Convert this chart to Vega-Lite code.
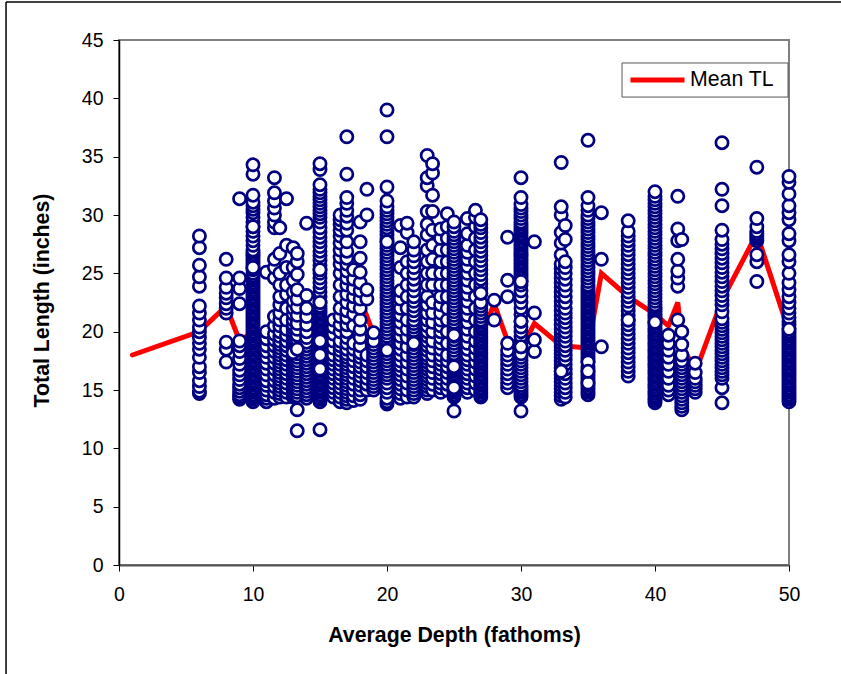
{"$schema":"https://vega.github.io/schema/vega-lite/v6.json","autosize":"none","padding":{"left":119,"top":40,"right":52,"bottom":109},"width":670,"height":525,"background":"white","config":{"view":{"stroke":"#808080","strokeWidth":2},"font":"Liberation Sans"},
"datasets":{"mean":[{"d":1,"t":18},{"d":6,"t":20},{"d":8,"t":22.2},{"d":9,"t":19.2},{"d":10,"t":20},{"d":12,"t":20},{"d":14,"t":20.5},{"d":16,"t":20.5},{"d":18,"t":22.8},{"d":19,"t":19.8},{"d":22,"t":20.5},{"d":25,"t":21.7},{"d":27,"t":19.5},{"d":28,"t":22.4},{"d":29,"t":19.2},{"d":30,"t":18.5},{"d":31,"t":20.7},{"d":33,"t":18.8},{"d":35,"t":18.6},{"d":36,"t":25},{"d":38,"t":23},{"d":40,"t":21.5},{"d":41,"t":20.5},{"d":41.7,"t":22.5},{"d":42,"t":19},{"d":43,"t":16.5},{"d":45,"t":22.7},{"d":47.6,"t":28.4},{"d":50,"t":20}],
"frame":[{"a":-8.43,"b":-9.4,"a2":-8.43,"b2":48.26},{"a":-8.43,"b":48.26,"a2":53.9,"b2":48.26}],
"legendbox":[{"a":37.54,"a2":49.93,"b":43.03,"b2":40.11}],
"fish":[
{"d":6,"t":14.7},{"d":6,"t":14.9},{"d":6,"t":15.3},{"d":6,"t":15.8},{"d":6,"t":16.5},{"d":6,"t":17},{"d":6,"t":17.8},{"d":6,"t":18.5},{"d":6,"t":19},{"d":6,"t":19.5},{"d":6,"t":20},{"d":6,"t":20.4},{"d":6,"t":21},{"d":6,"t":21.6},{"d":6,"t":22.2},{"d":6,"t":23.9},{"d":6,"t":24.7},{"d":6,"t":25.7},{"d":6,"t":27.2},{"d":6,"t":28.2},
{"d":8,"t":17.4},{"d":8,"t":18.5},{"d":8,"t":19.1},{"d":8,"t":21.6},{"d":8,"t":22},{"d":8,"t":22.4},{"d":8,"t":22.9},{"d":8,"t":23.3},{"d":8,"t":23.8},{"d":8,"t":24.6},{"d":8,"t":26.2},
{"d":9,"t":14.2},{"d":9,"t":14.4},{"d":9,"t":14.6},{"d":9,"t":14.9},{"d":9,"t":15.2},{"d":9,"t":15.5},{"d":9,"t":15.9},{"d":9,"t":16.3},{"d":9,"t":16.7},{"d":9,"t":17.2},{"d":9,"t":17.7},{"d":9,"t":18.3},{"d":9,"t":18.8},{"d":9,"t":19.2},{"d":9,"t":22.4},{"d":9,"t":23.7},{"d":9,"t":24.6},{"d":9,"t":31.4},
{"d":10,"t":14},{"d":10,"t":14.2},{"d":10,"t":14.4},{"d":10,"t":14.6},{"d":10,"t":14.8},{"d":10,"t":15},{"d":10,"t":15.2},{"d":10,"t":15.4},{"d":10,"t":15.6},{"d":10,"t":15.8},{"d":10,"t":16},{"d":10,"t":16.2},{"d":10,"t":16.4},{"d":10,"t":16.6},{"d":10,"t":16.8},{"d":10,"t":17},{"d":10,"t":17.2},{"d":10,"t":17.4},{"d":10,"t":17.6},{"d":10,"t":17.8},{"d":10,"t":18},{"d":10,"t":18.2},{"d":10,"t":18.4},{"d":10,"t":18.6},{"d":10,"t":18.8},{"d":10,"t":19},{"d":10,"t":19.2},{"d":10,"t":19.4},{"d":10,"t":19.6},{"d":10,"t":19.8},{"d":10,"t":20},{"d":10,"t":20.2},{"d":10,"t":20.4},{"d":10,"t":20.6},{"d":10,"t":20.8},{"d":10,"t":21},{"d":10,"t":21.2},{"d":10,"t":21.4},{"d":10,"t":21.6},{"d":10,"t":21.8},{"d":10,"t":22},{"d":10,"t":22.2},{"d":10,"t":22.4},{"d":10,"t":22.6},{"d":10,"t":22.8},{"d":10,"t":23},{"d":10,"t":23.2},{"d":10,"t":23.4},{"d":10,"t":23.6},{"d":10,"t":23.8},{"d":10,"t":24},{"d":10,"t":24.2},{"d":10,"t":24.4},{"d":10,"t":24.6},{"d":10,"t":24.8},{"d":10,"t":25},{"d":10,"t":25.3},{"d":10,"t":25.5},{"d":10,"t":25.8},{"d":10,"t":26},{"d":10,"t":26.2},{"d":10,"t":26.4},{"d":10,"t":26.6},{"d":10,"t":26.8},{"d":10,"t":27},{"d":10,"t":27.4},{"d":10,"t":27.8},{"d":10,"t":28.2},{"d":10,"t":28.6},{"d":10,"t":29},{"d":10,"t":29.4},{"d":10,"t":29.8},{"d":10,"t":30.2},{"d":10,"t":30.5},{"d":10,"t":30.8},{"d":10,"t":31.1},{"d":10,"t":31.7},{"d":10,"t":33.5},{"d":10,"t":34.3},
{"d":11,"t":14},{"d":11,"t":14.3},{"d":11,"t":14.6},{"d":11,"t":15},{"d":11,"t":15.4},{"d":11,"t":15.8},{"d":11,"t":16.3},{"d":11,"t":16.8},{"d":11,"t":17.3},{"d":11,"t":17.8},{"d":11,"t":18.3},{"d":11,"t":18.8},{"d":11,"t":19.4},{"d":11,"t":20},{"d":11,"t":25.1},
{"d":11.6,"t":14.3},{"d":11.6,"t":14.8},{"d":11.6,"t":15.3},{"d":11.6,"t":15.8},{"d":11.6,"t":16.3},{"d":11.6,"t":16.8},{"d":11.6,"t":17.3},{"d":11.6,"t":17.8},{"d":11.6,"t":18.3},{"d":11.6,"t":18.8},{"d":11.6,"t":19.3},{"d":11.6,"t":19.8},{"d":11.6,"t":20.5},{"d":11.6,"t":21.3},{"d":11.6,"t":24.6},{"d":11.6,"t":25.5},{"d":11.6,"t":26.2},{"d":11.6,"t":28.9},{"d":11.6,"t":29.4},{"d":11.6,"t":30},{"d":11.6,"t":30.6},{"d":11.6,"t":31.2},{"d":11.6,"t":31.9},{"d":11.6,"t":33.2},
{"d":12,"t":14.4},{"d":12,"t":14.7},{"d":12,"t":15},{"d":12,"t":15.3},{"d":12,"t":15.6},{"d":12,"t":15.9},{"d":12,"t":16.2},{"d":12,"t":16.5},{"d":12,"t":16.8},{"d":12,"t":17.1},{"d":12,"t":17.4},{"d":12,"t":17.7},{"d":12,"t":18},{"d":12,"t":18.3},{"d":12,"t":18.6},{"d":12,"t":18.9},{"d":12,"t":19.2},{"d":12,"t":19.6},{"d":12,"t":20},{"d":12,"t":20.5},{"d":12,"t":21},{"d":12,"t":21.6},{"d":12,"t":22.3},{"d":12,"t":23},{"d":12,"t":24},{"d":12,"t":25},{"d":12,"t":26.7},{"d":12,"t":28.9},
{"d":12.5,"t":14.4},{"d":12.5,"t":14.8},{"d":12.5,"t":15.2},{"d":12.5,"t":15.6},{"d":12.5,"t":16},{"d":12.5,"t":16.4},{"d":12.5,"t":16.8},{"d":12.5,"t":17.2},{"d":12.5,"t":17.6},{"d":12.5,"t":18},{"d":12.5,"t":18.4},{"d":12.5,"t":18.8},{"d":12.5,"t":19.2},{"d":12.5,"t":19.7},{"d":12.5,"t":20.2},{"d":12.5,"t":21},{"d":12.5,"t":22},{"d":12.5,"t":23.2},{"d":12.5,"t":24},{"d":12.5,"t":25.5},{"d":12.5,"t":27.4},{"d":12.5,"t":31.4},
{"d":13,"t":14.4},{"d":13,"t":14.6},{"d":13,"t":14.8},{"d":13,"t":15},{"d":13,"t":15.2},{"d":13,"t":15.4},{"d":13,"t":15.6},{"d":13,"t":15.8},{"d":13,"t":16},{"d":13,"t":16.2},{"d":13,"t":16.4},{"d":13,"t":16.6},{"d":13,"t":16.8},{"d":13,"t":17},{"d":13,"t":17.2},{"d":13,"t":17.4},{"d":13,"t":17.6},{"d":13,"t":17.8},{"d":13,"t":18},{"d":13,"t":18.2},{"d":13,"t":18.4},{"d":13,"t":18.6},{"d":13,"t":18.8},{"d":13,"t":19},{"d":13,"t":19.2},{"d":13,"t":19.4},{"d":13,"t":19.6},{"d":13,"t":19.8},{"d":13,"t":20},{"d":13,"t":20.3},{"d":13,"t":20.6},{"d":13,"t":21},{"d":13,"t":21.5},{"d":13,"t":22},{"d":13,"t":22.6},{"d":13,"t":23.4},{"d":13,"t":24.4},{"d":13,"t":25.5},{"d":13,"t":27.2},
{"d":13.3,"t":11.5},{"d":13.3,"t":13.3},{"d":13.3,"t":14.5},{"d":13.3,"t":14.8},{"d":13.3,"t":15.1},{"d":13.3,"t":15.4},{"d":13.3,"t":15.7},{"d":13.3,"t":16},{"d":13.3,"t":16.3},{"d":13.3,"t":16.6},{"d":13.3,"t":16.9},{"d":13.3,"t":17.2},{"d":13.3,"t":17.5},{"d":13.3,"t":17.8},{"d":13.3,"t":18.1},{"d":13.3,"t":18.5},{"d":13.3,"t":18.9},{"d":13.3,"t":19.3},{"d":13.3,"t":19.7},{"d":13.3,"t":20.2},{"d":13.3,"t":20.7},{"d":13.3,"t":21.4},{"d":13.3,"t":22.1},{"d":13.3,"t":22.8},{"d":13.3,"t":23.6},{"d":13.3,"t":24.9},{"d":13.3,"t":26},{"d":13.3,"t":26.7},
{"d":14,"t":14.3},{"d":14,"t":14.6},{"d":14,"t":14.9},{"d":14,"t":15.2},{"d":14,"t":15.5},{"d":14,"t":15.8},{"d":14,"t":16.1},{"d":14,"t":16.4},{"d":14,"t":16.7},{"d":14,"t":17},{"d":14,"t":17.3},{"d":14,"t":17.6},{"d":14,"t":17.9},{"d":14,"t":18.2},{"d":14,"t":18.5},{"d":14,"t":18.8},{"d":14,"t":19.1},{"d":14,"t":19.5},{"d":14,"t":20},{"d":14,"t":20.6},{"d":14,"t":21.3},{"d":14,"t":22},{"d":14,"t":23.1},{"d":14,"t":29.3},
{"d":15,"t":11.6},{"d":15,"t":14},{"d":15,"t":14.2},{"d":15,"t":14.4},{"d":15,"t":14.6},{"d":15,"t":14.8},{"d":15,"t":15},{"d":15,"t":15.2},{"d":15,"t":15.4},{"d":15,"t":15.6},{"d":15,"t":15.8},{"d":15,"t":16},{"d":15,"t":16.2},{"d":15,"t":16.4},{"d":15,"t":16.6},{"d":15,"t":16.8},{"d":15,"t":17},{"d":15,"t":17.2},{"d":15,"t":17.4},{"d":15,"t":17.6},{"d":15,"t":17.8},{"d":15,"t":18},{"d":15,"t":18.2},{"d":15,"t":18.4},{"d":15,"t":18.6},{"d":15,"t":18.8},{"d":15,"t":19},{"d":15,"t":19.2},{"d":15,"t":19.4},{"d":15,"t":19.6},{"d":15,"t":19.8},{"d":15,"t":20},{"d":15,"t":20.2},{"d":15,"t":20.4},{"d":15,"t":20.6},{"d":15,"t":20.8},{"d":15,"t":21},{"d":15,"t":21.2},{"d":15,"t":21.4},{"d":15,"t":21.6},{"d":15,"t":21.8},{"d":15,"t":22},{"d":15,"t":22.2},{"d":15,"t":22.5},{"d":15,"t":23},{"d":15,"t":23.4},{"d":15,"t":23.8},{"d":15,"t":24.2},{"d":15,"t":24.6},{"d":15,"t":25},{"d":15,"t":25.3},{"d":15,"t":25.7},{"d":15,"t":26.1},{"d":15,"t":26.5},{"d":15,"t":26.9},{"d":15,"t":27.3},{"d":15,"t":27.7},{"d":15,"t":28.1},{"d":15,"t":28.5},{"d":15,"t":28.9},{"d":15,"t":29.4},{"d":15,"t":29.8},{"d":15,"t":30.1},{"d":15,"t":30.4},{"d":15,"t":30.7},{"d":15,"t":31},{"d":15,"t":31.3},{"d":15,"t":31.6},{"d":15,"t":31.9},{"d":15,"t":32.2},{"d":15,"t":32.6},{"d":15,"t":33.9},{"d":15,"t":34.4},
{"d":16,"t":14.4},{"d":16,"t":14.8},{"d":16,"t":15.2},{"d":16,"t":15.6},{"d":16,"t":16},{"d":16,"t":16.4},{"d":16,"t":16.8},{"d":16,"t":17.2},{"d":16,"t":17.6},{"d":16,"t":18},{"d":16,"t":18.6},{"d":16,"t":19.2},{"d":16,"t":19.8},{"d":16,"t":20.4},{"d":16,"t":21},
{"d":16.5,"t":14},{"d":16.5,"t":14.4},{"d":16.5,"t":14.8},{"d":16.5,"t":15.2},{"d":16.5,"t":15.6},{"d":16.5,"t":16},{"d":16.5,"t":16.4},{"d":16.5,"t":16.8},{"d":16.5,"t":17.2},{"d":16.5,"t":17.6},{"d":16.5,"t":18},{"d":16.5,"t":18.4},{"d":16.5,"t":18.8},{"d":16.5,"t":19.2},{"d":16.5,"t":20},{"d":16.5,"t":20.6},{"d":16.5,"t":21.3},{"d":16.5,"t":22},{"d":16.5,"t":23},{"d":16.5,"t":24},{"d":16.5,"t":25},{"d":16.5,"t":25.8},{"d":16.5,"t":26.4},{"d":16.5,"t":27},{"d":16.5,"t":27.6},{"d":16.5,"t":28.2},{"d":16.5,"t":28.7},{"d":16.5,"t":29.2},{"d":16.5,"t":29.6},{"d":16.5,"t":30},
{"d":17,"t":13.9},{"d":17,"t":14.2},{"d":17,"t":14.5},{"d":17,"t":14.8},{"d":17,"t":15.1},{"d":17,"t":15.4},{"d":17,"t":15.7},{"d":17,"t":16},{"d":17,"t":16.3},{"d":17,"t":16.6},{"d":17,"t":16.9},{"d":17,"t":17.2},{"d":17,"t":17.5},{"d":17,"t":17.8},{"d":17,"t":18.1},{"d":17,"t":18.5},{"d":17,"t":19},{"d":17,"t":19.5},{"d":17,"t":20},{"d":17,"t":20.6},{"d":17,"t":21.2},{"d":17,"t":21.8},{"d":17,"t":22.5},{"d":17,"t":23.2},{"d":17,"t":24},{"d":17,"t":24.6},{"d":17,"t":25.2},{"d":17,"t":25.8},{"d":17,"t":26.3},{"d":17,"t":26.9},{"d":17,"t":27.7},{"d":17,"t":28.7},{"d":17,"t":29.3},{"d":17,"t":29.9},{"d":17,"t":30.4},{"d":17,"t":31},{"d":17,"t":31.5},{"d":17,"t":33.5},{"d":17,"t":36.7},
{"d":17.5,"t":14.1},{"d":17.5,"t":14.5},{"d":17.5,"t":15},{"d":17.5,"t":15.5},{"d":17.5,"t":16},{"d":17.5,"t":16.5},{"d":17.5,"t":17},{"d":17.5,"t":17.5},{"d":17.5,"t":18},{"d":17.5,"t":18.5},{"d":17.5,"t":19},{"d":17.5,"t":20.5},{"d":17.5,"t":21.5},{"d":17.5,"t":22.2},{"d":17.5,"t":23},{"d":17.5,"t":23.7},{"d":17.5,"t":24.5},{"d":17.5,"t":25.3},
{"d":18,"t":14.2},{"d":18,"t":14.6},{"d":18,"t":15},{"d":18,"t":15.4},{"d":18,"t":15.8},{"d":18,"t":16.2},{"d":18,"t":16.6},{"d":18,"t":17},{"d":18,"t":17.4},{"d":18,"t":17.8},{"d":18,"t":18.2},{"d":18,"t":18.8},{"d":18,"t":19.5},{"d":18,"t":20.2},{"d":18,"t":21},{"d":18,"t":22},{"d":18,"t":22.8},{"d":18,"t":23.5},{"d":18,"t":24.2},{"d":18,"t":25.1},{"d":18,"t":26.3},{"d":18,"t":27.7},{"d":18,"t":29.4},
{"d":18.5,"t":15},{"d":18.5,"t":15.5},{"d":18.5,"t":16},{"d":18.5,"t":16.5},{"d":18.5,"t":17},{"d":18.5,"t":17.5},{"d":18.5,"t":18},{"d":18.5,"t":22.8},{"d":18.5,"t":23.6},{"d":18.5,"t":30},{"d":18.5,"t":32.2},
{"d":19,"t":15},{"d":19,"t":15.3},{"d":19,"t":15.6},{"d":19,"t":15.9},{"d":19,"t":16.2},{"d":19,"t":16.5},{"d":19,"t":16.8},{"d":19,"t":17.1},{"d":19,"t":17.4},{"d":19,"t":17.7},{"d":19,"t":18},{"d":19,"t":18.3},{"d":19,"t":18.6},{"d":19,"t":18.9},{"d":19,"t":19.2},{"d":19,"t":19.9},
{"d":20,"t":13.8},{"d":20,"t":14},{"d":20,"t":14.3},{"d":20,"t":14.8},{"d":20,"t":15.2},{"d":20,"t":15.6},{"d":20,"t":16},{"d":20,"t":16.3},{"d":20,"t":16.6},{"d":20,"t":16.9},{"d":20,"t":17.2},{"d":20,"t":17.5},{"d":20,"t":17.8},{"d":20,"t":18.1},{"d":20,"t":18.4},{"d":20,"t":18.7},{"d":20,"t":19},{"d":20,"t":19.3},{"d":20,"t":19.6},{"d":20,"t":19.9},{"d":20,"t":20.2},{"d":20,"t":20.5},{"d":20,"t":20.8},{"d":20,"t":21.1},{"d":20,"t":21.4},{"d":20,"t":21.7},{"d":20,"t":22},{"d":20,"t":22.3},{"d":20,"t":22.6},{"d":20,"t":22.9},{"d":20,"t":23.2},{"d":20,"t":23.5},{"d":20,"t":23.8},{"d":20,"t":24.1},{"d":20,"t":24.4},{"d":20,"t":24.7},{"d":20,"t":25},{"d":20,"t":25.3},{"d":20,"t":25.6},{"d":20,"t":25.9},{"d":20,"t":26.2},{"d":20,"t":26.5},{"d":20,"t":26.8},{"d":20,"t":27.1},{"d":20,"t":27.4},{"d":20,"t":27.7},{"d":20,"t":28},{"d":20,"t":28.3},{"d":20,"t":28.6},{"d":20,"t":28.9},{"d":20,"t":29.2},{"d":20,"t":29.5},{"d":20,"t":29.8},{"d":20,"t":30.1},{"d":20,"t":30.4},{"d":20,"t":30.7},{"d":20,"t":31.2},{"d":20,"t":32.4},{"d":20,"t":36.7},{"d":20,"t":39},
{"d":21,"t":14.3},{"d":21,"t":14.7},{"d":21,"t":15.1},{"d":21,"t":15.5},{"d":21,"t":15.9},{"d":21,"t":16.3},{"d":21,"t":16.7},{"d":21,"t":17.1},{"d":21,"t":17.5},{"d":21,"t":18},{"d":21,"t":18.5},{"d":21,"t":19},{"d":21,"t":19.6},{"d":21,"t":20.2},{"d":21,"t":20.8},{"d":21,"t":21.4},{"d":21,"t":22},{"d":21,"t":22.8},{"d":21,"t":23.5},{"d":21,"t":25.5},{"d":21,"t":27.2},{"d":21,"t":29.1},
{"d":21.5,"t":14.4},{"d":21.5,"t":15},{"d":21.5,"t":15.6},{"d":21.5,"t":16.2},{"d":21.5,"t":16.8},{"d":21.5,"t":17.4},{"d":21.5,"t":18},{"d":21.5,"t":18.7},{"d":21.5,"t":19.5},{"d":21.5,"t":20.2},{"d":21.5,"t":21},{"d":21.5,"t":22},{"d":21.5,"t":23},{"d":21.5,"t":24},{"d":21.5,"t":25},{"d":21.5,"t":26},{"d":21.5,"t":28.5},{"d":21.5,"t":29.3},
{"d":22,"t":14.4},{"d":22,"t":14.7},{"d":22,"t":15},{"d":22,"t":15.3},{"d":22,"t":15.6},{"d":22,"t":15.9},{"d":22,"t":16.2},{"d":22,"t":16.5},{"d":22,"t":16.8},{"d":22,"t":17.1},{"d":22,"t":17.4},{"d":22,"t":17.7},{"d":22,"t":18},{"d":22,"t":18.3},{"d":22,"t":18.6},{"d":22,"t":18.9},{"d":22,"t":19.2},{"d":22,"t":19.5},{"d":22,"t":19.8},{"d":22,"t":20.1},{"d":22,"t":20.4},{"d":22,"t":20.7},{"d":22,"t":21},{"d":22,"t":21.4},{"d":22,"t":21.8},{"d":22,"t":22.2},{"d":22,"t":22.6},{"d":22,"t":23},{"d":22,"t":23.5},{"d":22,"t":24},{"d":22,"t":24.5},{"d":22,"t":25},{"d":22,"t":25.5},{"d":22,"t":26},{"d":22,"t":26.5},{"d":22,"t":27},{"d":22,"t":27.7},
{"d":23,"t":14.7},{"d":23,"t":15},{"d":23,"t":15.3},{"d":23,"t":15.6},{"d":23,"t":15.9},{"d":23,"t":16.2},{"d":23,"t":16.5},{"d":23,"t":16.8},{"d":23,"t":17.1},{"d":23,"t":17.4},{"d":23,"t":17.7},{"d":23,"t":18},{"d":23,"t":18.4},{"d":23,"t":18.8},{"d":23,"t":19.2},{"d":23,"t":19.6},{"d":23,"t":20},{"d":23,"t":20.5},{"d":23,"t":21},{"d":23,"t":21.6},{"d":23,"t":22.3},{"d":23,"t":23},{"d":23,"t":24},{"d":23,"t":25},{"d":23,"t":26},{"d":23,"t":27},{"d":23,"t":28.3},{"d":23,"t":29.2},{"d":23,"t":30.3},{"d":23,"t":32.5},{"d":23,"t":33.2},{"d":23,"t":35.1},
{"d":23.4,"t":15},{"d":23.4,"t":15.5},{"d":23.4,"t":16},{"d":23.4,"t":16.5},{"d":23.4,"t":17},{"d":23.4,"t":17.5},{"d":23.4,"t":18},{"d":23.4,"t":18.6},{"d":23.4,"t":19.2},{"d":23.4,"t":20},{"d":23.4,"t":20.8},{"d":23.4,"t":21.6},{"d":23.4,"t":22.5},{"d":23.4,"t":24},{"d":23.4,"t":25},{"d":23.4,"t":26.2},{"d":23.4,"t":27.4},{"d":23.4,"t":28.7},{"d":23.4,"t":30.3},{"d":23.4,"t":31.7},{"d":23.4,"t":33.6},{"d":23.4,"t":34.4},
{"d":24,"t":14.8},{"d":24,"t":15.2},{"d":24,"t":15.6},{"d":24,"t":16},{"d":24,"t":16.4},{"d":24,"t":16.8},{"d":24,"t":17.2},{"d":24,"t":17.6},{"d":24,"t":18},{"d":24,"t":18.5},{"d":24,"t":19},{"d":24,"t":19.5},{"d":24,"t":20},{"d":24,"t":20.5},{"d":24,"t":21},{"d":24,"t":21.6},{"d":24,"t":22.3},{"d":24,"t":23},{"d":24,"t":24},{"d":24,"t":25},{"d":24,"t":26},{"d":24,"t":27},{"d":24,"t":28},{"d":24,"t":28.8},
{"d":24.5,"t":15},{"d":24.5,"t":15.5},{"d":24.5,"t":16},{"d":24.5,"t":16.5},{"d":24.5,"t":17},{"d":24.5,"t":17.5},{"d":24.5,"t":18},{"d":24.5,"t":19},{"d":24.5,"t":20},{"d":24.5,"t":21},{"d":24.5,"t":22},{"d":24.5,"t":23},{"d":24.5,"t":24},{"d":24.5,"t":25},{"d":24.5,"t":26},{"d":24.5,"t":27},{"d":24.5,"t":28},{"d":24.5,"t":29},{"d":24.5,"t":30.1},
{"d":25,"t":13.2},{"d":25,"t":14.4},{"d":25,"t":14.6},{"d":25,"t":14.8},{"d":25,"t":15},{"d":25,"t":15.2},{"d":25,"t":15.4},{"d":25,"t":15.6},{"d":25,"t":15.8},{"d":25,"t":16},{"d":25,"t":16.2},{"d":25,"t":16.4},{"d":25,"t":16.6},{"d":25,"t":16.8},{"d":25,"t":17},{"d":25,"t":17.2},{"d":25,"t":17.5},{"d":25,"t":17.8},{"d":25,"t":18.1},{"d":25,"t":18.4},{"d":25,"t":18.7},{"d":25,"t":19},{"d":25,"t":19.3},{"d":25,"t":19.6},{"d":25,"t":19.9},{"d":25,"t":20.2},{"d":25,"t":20.5},{"d":25,"t":20.8},{"d":25,"t":21.1},{"d":25,"t":21.4},{"d":25,"t":21.7},{"d":25,"t":22},{"d":25,"t":22.3},{"d":25,"t":22.6},{"d":25,"t":22.9},{"d":25,"t":23.2},{"d":25,"t":23.5},{"d":25,"t":23.8},{"d":25,"t":24.1},{"d":25,"t":24.4},{"d":25,"t":24.7},{"d":25,"t":25},{"d":25,"t":25.3},{"d":25,"t":25.6},{"d":25,"t":25.9},{"d":25,"t":26.2},{"d":25,"t":26.5},{"d":25,"t":26.8},{"d":25,"t":27.1},{"d":25,"t":27.4},{"d":25,"t":27.7},{"d":25,"t":28},{"d":25,"t":28.3},{"d":25,"t":28.6},{"d":25,"t":29},{"d":25,"t":29.4},
{"d":26,"t":14.8},{"d":26,"t":15.2},{"d":26,"t":15.6},{"d":26,"t":16},{"d":26,"t":16.4},{"d":26,"t":16.8},{"d":26,"t":17.2},{"d":26,"t":17.6},{"d":26,"t":18},{"d":26,"t":18.5},{"d":26,"t":19},{"d":26,"t":19.6},{"d":26,"t":20.2},{"d":26,"t":20.8},{"d":26,"t":21.4},{"d":26,"t":22},{"d":26,"t":22.6},{"d":26,"t":23.2},{"d":26,"t":23.8},{"d":26,"t":24.4},{"d":26,"t":25},{"d":26,"t":25.6},{"d":26,"t":26.2},{"d":26,"t":26.8},{"d":26,"t":27.4},{"d":26,"t":28.4},{"d":26,"t":29.7},
{"d":26.6,"t":15},{"d":26.6,"t":15.6},{"d":26.6,"t":16.2},{"d":26.6,"t":16.8},{"d":26.6,"t":17.4},{"d":26.6,"t":18},{"d":26.6,"t":18.6},{"d":26.6,"t":19.2},{"d":26.6,"t":20},{"d":26.6,"t":21},{"d":26.6,"t":22},{"d":26.6,"t":23},{"d":26.6,"t":24},{"d":26.6,"t":25},{"d":26.6,"t":26},{"d":26.6,"t":27},{"d":26.6,"t":28},{"d":26.6,"t":29},{"d":26.6,"t":29.8},{"d":26.6,"t":30.4},
{"d":27,"t":14.4},{"d":27,"t":14.6},{"d":27,"t":14.8},{"d":27,"t":15},{"d":27,"t":15.2},{"d":27,"t":15.4},{"d":27,"t":15.6},{"d":27,"t":15.8},{"d":27,"t":16},{"d":27,"t":16.2},{"d":27,"t":16.4},{"d":27,"t":16.6},{"d":27,"t":16.8},{"d":27,"t":17},{"d":27,"t":17.2},{"d":27,"t":17.4},{"d":27,"t":17.6},{"d":27,"t":17.8},{"d":27,"t":18},{"d":27,"t":18.2},{"d":27,"t":18.4},{"d":27,"t":18.6},{"d":27,"t":18.8},{"d":27,"t":19},{"d":27,"t":19.2},{"d":27,"t":19.4},{"d":27,"t":19.6},{"d":27,"t":19.8},{"d":27,"t":20},{"d":27,"t":20.2},{"d":27,"t":20.4},{"d":27,"t":20.6},{"d":27,"t":20.8},{"d":27,"t":21},{"d":27,"t":21.3},{"d":27,"t":21.6},{"d":27,"t":21.9},{"d":27,"t":22.2},{"d":27,"t":22.5},{"d":27,"t":23.3},{"d":27,"t":23.7},{"d":27,"t":24.1},{"d":27,"t":24.5},{"d":27,"t":24.9},{"d":27,"t":25.3},{"d":27,"t":25.7},{"d":27,"t":26.1},{"d":27,"t":26.5},{"d":27,"t":26.9},{"d":27,"t":27.3},{"d":27,"t":27.7},{"d":27,"t":28.1},{"d":27,"t":28.5},{"d":27,"t":28.9},{"d":27,"t":29.2},{"d":27,"t":29.6},
{"d":28,"t":21},{"d":28,"t":22.7},
{"d":29,"t":15.2},{"d":29,"t":15.6},{"d":29,"t":16},{"d":29,"t":16.4},{"d":29,"t":16.8},{"d":29,"t":17.2},{"d":29,"t":17.6},{"d":29,"t":18},{"d":29,"t":18.4},{"d":29,"t":19},{"d":29,"t":23},{"d":29,"t":24.4},{"d":29,"t":28.1},
{"d":30,"t":13.2},{"d":30,"t":14.4},{"d":30,"t":14.6},{"d":30,"t":14.8},{"d":30,"t":15},{"d":30,"t":15.2},{"d":30,"t":15.4},{"d":30,"t":15.7},{"d":30,"t":16},{"d":30,"t":16.3},{"d":30,"t":16.6},{"d":30,"t":16.9},{"d":30,"t":17.2},{"d":30,"t":17.5},{"d":30,"t":17.8},{"d":30,"t":18.1},{"d":30,"t":18.7},{"d":30,"t":19.2},{"d":30,"t":19.6},{"d":30,"t":20},{"d":30,"t":20.4},{"d":30,"t":20.9},{"d":30,"t":21.5},{"d":30,"t":22},{"d":30,"t":22.5},{"d":30,"t":23},{"d":30,"t":23.5},{"d":30,"t":24},{"d":30,"t":24.3},{"d":30,"t":24.6},{"d":30,"t":24.8},{"d":30,"t":25},{"d":30,"t":25.2},{"d":30,"t":25.4},{"d":30,"t":25.6},{"d":30,"t":25.8},{"d":30,"t":26},{"d":30,"t":26.2},{"d":30,"t":26.4},{"d":30,"t":26.6},{"d":30,"t":26.8},{"d":30,"t":27},{"d":30,"t":27.2},{"d":30,"t":27.4},{"d":30,"t":27.6},{"d":30,"t":27.8},{"d":30,"t":28},{"d":30,"t":28.2},{"d":30,"t":28.4},{"d":30,"t":28.6},{"d":30,"t":28.8},{"d":30,"t":29},{"d":30,"t":29.2},{"d":30,"t":29.4},{"d":30,"t":29.7},{"d":30,"t":30},{"d":30,"t":30.3},{"d":30,"t":30.6},{"d":30,"t":30.9},{"d":30,"t":31.5},{"d":30,"t":33.2},
{"d":31,"t":18.3},{"d":31,"t":19.3},{"d":31,"t":21.6},{"d":31,"t":27.7},
{"d":33,"t":14.2},{"d":33,"t":14.5},{"d":33,"t":14.8},{"d":33,"t":15.1},{"d":33,"t":15.4},{"d":33,"t":15.7},{"d":33,"t":16},{"d":33,"t":16.3},{"d":33,"t":16.6},{"d":33,"t":16.9},{"d":33,"t":17.2},{"d":33,"t":17.5},{"d":33,"t":17.8},{"d":33,"t":18.1},{"d":33,"t":18.4},{"d":33,"t":18.7},{"d":33,"t":19},{"d":33,"t":19.3},{"d":33,"t":19.6},{"d":33,"t":19.9},{"d":33,"t":20.2},{"d":33,"t":20.6},{"d":33,"t":21},{"d":33,"t":21.4},{"d":33,"t":21.8},{"d":33,"t":22.2},{"d":33,"t":22.6},{"d":33,"t":23},{"d":33,"t":23.4},{"d":33,"t":23.8},{"d":33,"t":24.2},{"d":33,"t":24.6},{"d":33,"t":25},{"d":33,"t":25.4},{"d":33,"t":25.8},{"d":33,"t":26.6},{"d":33,"t":27.6},{"d":33,"t":28.5},{"d":33,"t":30},{"d":33,"t":30.7},{"d":33,"t":34.5},
{"d":33.3,"t":14.4},{"d":33.3,"t":14.8},{"d":33.3,"t":15.2},{"d":33.3,"t":15.6},{"d":33.3,"t":16},{"d":33.3,"t":16.4},{"d":33.3,"t":16.8},{"d":33.3,"t":17.2},{"d":33.3,"t":17.6},{"d":33.3,"t":18},{"d":33.3,"t":18.4},{"d":33.3,"t":18.8},{"d":33.3,"t":19.2},{"d":33.3,"t":19.6},{"d":33.3,"t":20},{"d":33.3,"t":20.4},{"d":33.3,"t":20.8},{"d":33.3,"t":21.2},{"d":33.3,"t":21.6},{"d":33.3,"t":22},{"d":33.3,"t":22.5},{"d":33.3,"t":23},{"d":33.3,"t":23.5},{"d":33.3,"t":24},{"d":33.3,"t":24.5},{"d":33.3,"t":25},{"d":33.3,"t":25.5},{"d":33.3,"t":26},{"d":33.3,"t":27.9},{"d":33.3,"t":29.1},
{"d":35,"t":14.6},{"d":35,"t":14.8},{"d":35,"t":15},{"d":35,"t":15.2},{"d":35,"t":15.4},{"d":35,"t":15.6},{"d":35,"t":15.8},{"d":35,"t":16},{"d":35,"t":16.2},{"d":35,"t":16.4},{"d":35,"t":16.6},{"d":35,"t":16.8},{"d":35,"t":17},{"d":35,"t":17.4},{"d":35,"t":17.6},{"d":35,"t":17.8},{"d":35,"t":18},{"d":35,"t":18.2},{"d":35,"t":18.4},{"d":35,"t":18.6},{"d":35,"t":18.8},{"d":35,"t":19},{"d":35,"t":19.2},{"d":35,"t":19.4},{"d":35,"t":19.6},{"d":35,"t":19.8},{"d":35,"t":20},{"d":35,"t":20.2},{"d":35,"t":20.4},{"d":35,"t":20.6},{"d":35,"t":20.8},{"d":35,"t":21},{"d":35,"t":21.2},{"d":35,"t":21.4},{"d":35,"t":21.6},{"d":35,"t":21.8},{"d":35,"t":22},{"d":35,"t":22.2},{"d":35,"t":22.4},{"d":35,"t":22.6},{"d":35,"t":22.8},{"d":35,"t":23},{"d":35,"t":23.2},{"d":35,"t":23.4},{"d":35,"t":23.6},{"d":35,"t":23.8},{"d":35,"t":24},{"d":35,"t":24.3},{"d":35,"t":24.6},{"d":35,"t":24.9},{"d":35,"t":25.2},{"d":35,"t":25.5},{"d":35,"t":25.8},{"d":35,"t":26.1},{"d":35,"t":26.4},{"d":35,"t":26.7},{"d":35,"t":27},{"d":35,"t":27.3},{"d":35,"t":27.6},{"d":35,"t":27.9},{"d":35,"t":28.2},{"d":35,"t":28.5},{"d":35,"t":28.8},{"d":35,"t":29.1},{"d":35,"t":29.4},{"d":35,"t":29.7},{"d":35,"t":30},{"d":35,"t":30.4},{"d":35,"t":30.8},{"d":35,"t":31.5},{"d":35,"t":36.4},
{"d":36,"t":18.7},{"d":36,"t":26.2},{"d":36,"t":30.2},
{"d":38,"t":16.2},{"d":38,"t":16.6},{"d":38,"t":17},{"d":38,"t":17.4},{"d":38,"t":17.8},{"d":38,"t":18.2},{"d":38,"t":18.6},{"d":38,"t":19},{"d":38,"t":19.4},{"d":38,"t":19.8},{"d":38,"t":20.2},{"d":38,"t":20.6},{"d":38,"t":21},{"d":38,"t":21.4},{"d":38,"t":21.8},{"d":38,"t":22.2},{"d":38,"t":22.6},{"d":38,"t":23},{"d":38,"t":23.4},{"d":38,"t":23.8},{"d":38,"t":24.2},{"d":38,"t":24.6},{"d":38,"t":25},{"d":38,"t":25.4},{"d":38,"t":25.8},{"d":38,"t":26.2},{"d":38,"t":26.6},{"d":38,"t":27},{"d":38,"t":27.4},{"d":38,"t":27.8},{"d":38,"t":28.2},{"d":38,"t":28.6},{"d":38,"t":29.5},
{"d":40,"t":13.9},{"d":40,"t":14.1},{"d":40,"t":14.3},{"d":40,"t":14.5},{"d":40,"t":14.7},{"d":40,"t":14.9},{"d":40,"t":15.1},{"d":40,"t":15.3},{"d":40,"t":15.5},{"d":40,"t":15.7},{"d":40,"t":15.9},{"d":40,"t":16.1},{"d":40,"t":16.3},{"d":40,"t":16.5},{"d":40,"t":16.7},{"d":40,"t":16.9},{"d":40,"t":17.1},{"d":40,"t":17.3},{"d":40,"t":17.5},{"d":40,"t":17.7},{"d":40,"t":17.9},{"d":40,"t":18.1},{"d":40,"t":18.3},{"d":40,"t":18.5},{"d":40,"t":18.7},{"d":40,"t":18.9},{"d":40,"t":19.1},{"d":40,"t":19.3},{"d":40,"t":19.5},{"d":40,"t":19.7},{"d":40,"t":19.9},{"d":40,"t":20.1},{"d":40,"t":20.3},{"d":40,"t":20.5},{"d":40,"t":20.7},{"d":40,"t":20.9},{"d":40,"t":21.1},{"d":40,"t":21.3},{"d":40,"t":21.5},{"d":40,"t":21.7},{"d":40,"t":21.9},{"d":40,"t":22.1},{"d":40,"t":22.3},{"d":40,"t":22.6},{"d":40,"t":22.9},{"d":40,"t":23.2},{"d":40,"t":23.5},{"d":40,"t":23.8},{"d":40,"t":24.1},{"d":40,"t":24.4},{"d":40,"t":24.7},{"d":40,"t":25},{"d":40,"t":25.3},{"d":40,"t":25.6},{"d":40,"t":25.9},{"d":40,"t":26.2},{"d":40,"t":26.5},{"d":40,"t":26.8},{"d":40,"t":27.1},{"d":40,"t":27.4},{"d":40,"t":27.7},{"d":40,"t":28},{"d":40,"t":28.3},{"d":40,"t":28.6},{"d":40,"t":28.9},{"d":40,"t":29.2},{"d":40,"t":29.5},{"d":40,"t":29.8},{"d":40,"t":30.1},{"d":40,"t":30.4},{"d":40,"t":30.7},{"d":40,"t":31},{"d":40,"t":31.3},{"d":40,"t":31.6},{"d":40,"t":32},
{"d":41,"t":14.6},{"d":41,"t":15},{"d":41,"t":15.4},{"d":41,"t":16},{"d":41,"t":16.6},{"d":41,"t":17.2},{"d":41,"t":17.8},{"d":41,"t":18.4},{"d":41,"t":19},{"d":41,"t":19.7},
{"d":41.7,"t":21},{"d":41.7,"t":23.9},{"d":41.7,"t":24.6},{"d":41.7,"t":25.2},{"d":41.7,"t":26.2},{"d":41.7,"t":27.8},{"d":41.7,"t":28.8},{"d":41.7,"t":31.6},
{"d":42,"t":13.3},{"d":42,"t":13.6},{"d":42,"t":13.9},{"d":42,"t":14.2},{"d":42,"t":14.5},{"d":42,"t":14.8},{"d":42,"t":15.1},{"d":42,"t":15.4},{"d":42,"t":15.7},{"d":42,"t":16},{"d":42,"t":16.3},{"d":42,"t":16.6},{"d":42,"t":16.9},{"d":42,"t":17.2},{"d":42,"t":17.5},{"d":42,"t":18},{"d":42,"t":18.9},{"d":42,"t":20},{"d":42,"t":27.9},
{"d":43,"t":14.8},{"d":43,"t":15.1},{"d":43,"t":15.4},{"d":43,"t":15.7},{"d":43,"t":16},{"d":43,"t":16.5},{"d":43,"t":17.3},
{"d":45,"t":13.9},{"d":45,"t":15.2},{"d":45,"t":16},{"d":45,"t":16.3},{"d":45,"t":16.6},{"d":45,"t":16.9},{"d":45,"t":17.2},{"d":45,"t":17.5},{"d":45,"t":17.8},{"d":45,"t":18.1},{"d":45,"t":18.4},{"d":45,"t":18.7},{"d":45,"t":19},{"d":45,"t":19.3},{"d":45,"t":19.6},{"d":45,"t":19.9},{"d":45,"t":20.2},{"d":45,"t":20.5},{"d":45,"t":20.8},{"d":45,"t":21.1},{"d":45,"t":21.7},{"d":45,"t":22.3},{"d":45,"t":22.7},{"d":45,"t":23.1},{"d":45,"t":23.5},{"d":45,"t":23.9},{"d":45,"t":24.3},{"d":45,"t":24.7},{"d":45,"t":25.1},{"d":45,"t":25.5},{"d":45,"t":25.9},{"d":45,"t":26.3},{"d":45,"t":26.7},{"d":45,"t":27.1},{"d":45,"t":27.5},{"d":45,"t":27.9},{"d":45,"t":28.7},{"d":45,"t":30.8},{"d":45,"t":32.2},{"d":45,"t":36.2},
{"d":47.6,"t":24.3},{"d":47.6,"t":26},{"d":47.6,"t":26.6},{"d":47.6,"t":27.8},{"d":47.6,"t":28},{"d":47.6,"t":28.2},{"d":47.6,"t":28.4},{"d":47.6,"t":28.6},{"d":47.6,"t":29},{"d":47.6,"t":29.7},{"d":47.6,"t":34.1},
{"d":50,"t":14},{"d":50,"t":14.2},{"d":50,"t":14.4},{"d":50,"t":14.6},{"d":50,"t":14.8},{"d":50,"t":15},{"d":50,"t":15.2},{"d":50,"t":15.4},{"d":50,"t":15.6},{"d":50,"t":15.8},{"d":50,"t":16},{"d":50,"t":16.2},{"d":50,"t":16.4},{"d":50,"t":16.6},{"d":50,"t":16.8},{"d":50,"t":17},{"d":50,"t":17.2},{"d":50,"t":17.4},{"d":50,"t":17.6},{"d":50,"t":17.8},{"d":50,"t":18},{"d":50,"t":18.2},{"d":50,"t":18.4},{"d":50,"t":18.6},{"d":50,"t":18.8},{"d":50,"t":19},{"d":50,"t":19.2},{"d":50,"t":19.4},{"d":50,"t":19.6},{"d":50,"t":19.8},{"d":50,"t":20},{"d":50,"t":20.3},{"d":50,"t":20.6},{"d":50,"t":20.9},{"d":50,"t":21.2},{"d":50,"t":21.6},{"d":50,"t":22},{"d":50,"t":22.5},{"d":50,"t":23},{"d":50,"t":23.6},{"d":50,"t":24.2},{"d":50,"t":25},{"d":50,"t":26},{"d":50,"t":26.6},{"d":50,"t":27.8},{"d":50,"t":28.4},{"d":50,"t":29.6},{"d":50,"t":30.2},{"d":50,"t":30.8},{"d":50,"t":31.8},{"d":50,"t":32.8},{"d":50,"t":33.3},
{"d":10,"t":25.5},{"d":10,"t":29},{"d":15,"t":22.5},{"d":15,"t":25.3},{"d":13,"t":18.2},{"d":13.3,"t":18.5},{"d":20,"t":27.7},{"d":20,"t":18.4},{"d":22,"t":19},{"d":25,"t":17},{"d":25,"t":15.2},{"d":25,"t":19.7},{"d":27,"t":23.3},{"d":30,"t":18.7},{"d":30,"t":20.9},{"d":30,"t":24.3},{"d":35,"t":17.4},{"d":35,"t":15.6},{"d":35,"t":16.6},{"d":40,"t":20.8},{"d":50,"t":20.2},{"d":38,"t":21},{"d":33,"t":16.6},{"d":15,"t":16.8},{"d":15,"t":18},{"d":15,"t":19.2}
]},
"layer":[
{"data":{"name":"legendbox"},"mark":{"type":"rect","fill":"white","stroke":"#555555","strokeWidth":1,"clip":false},"encoding":{"x":{"field":"a","type":"quantitative","scale":{"domain":[0,50],"nice":false},"axis":{"values":[0,10,20,30,40,50],"labelFlush":false,"title":"Average Depth (fathoms)","titleFontSize":21.3,"titleFontWeight":"bold","titleColor":"#000","titleFont":"Liberation Sans","titleY":59,"labelFontSize":19.5,"labelFont":"Liberation Sans","labelColor":"#000","labelPadding":14,"tickColor":"#000","tickSize":6,"domainColor":"#555","domainWidth":2,"grid":false}},"x2":{"field":"a2"},"y":{"field":"b","type":"quantitative","scale":{"domain":[0,45],"nice":false},"axis":{"values":[0,5,10,15,20,25,30,35,40,45],"labelFlush":false,"title":"Total Length (inches)","titleFontSize":21.3,"titleFontWeight":"bold","titleColor":"#000","titleFont":"Liberation Sans","titleX":-67,"titleY":260,"labelFontSize":19.5,"labelFont":"Liberation Sans","labelColor":"#000","labelPadding":10,"tickColor":"#000","tickSize":6,"domainColor":"#000","domainWidth":1.5,"grid":false}},"y2":{"field":"b2"}}},
{"data":{"name":"mean"},"mark":{"type":"line","stroke":"#ff0000","strokeWidth":5,"strokeCap":"round","strokeJoin":"miter","clip":false},"encoding":{"x":{"field":"d","type":"quantitative"},"y":{"field":"t","type":"quantitative"},"color":{"datum":"Mean TL","type":"nominal","scale":{"domain":["Mean TL"],"range":["#ff0000"]},"legend":{"orient":"none","legendX":503,"legendY":23,"title":null,"symbolType":"stroke","symbolSize":2916,"symbolStrokeWidth":5,"clipHeight":22,"labelFontSize":21.3,"labelFont":"Liberation Sans","labelColor":"#000","padding":6,"labelOffset":3}}}},
{"data":{"name":"fish"},"mark":{"type":"point","shape":"circle","size":150,"filled":false,"fill":"white","fillOpacity":1,"stroke":"#000080","strokeWidth":2.7,"opacity":1},"encoding":{"x":{"field":"d","type":"quantitative"},"y":{"field":"t","type":"quantitative"}}},
{"data":{"name":"frame"},"mark":{"type":"rule","color":"#000","strokeWidth":1.5,"clip":false},"encoding":{"x":{"field":"a","type":"quantitative"},"y":{"field":"b","type":"quantitative"},"x2":{"field":"a2"},"y2":{"field":"b2"}}}
]}
